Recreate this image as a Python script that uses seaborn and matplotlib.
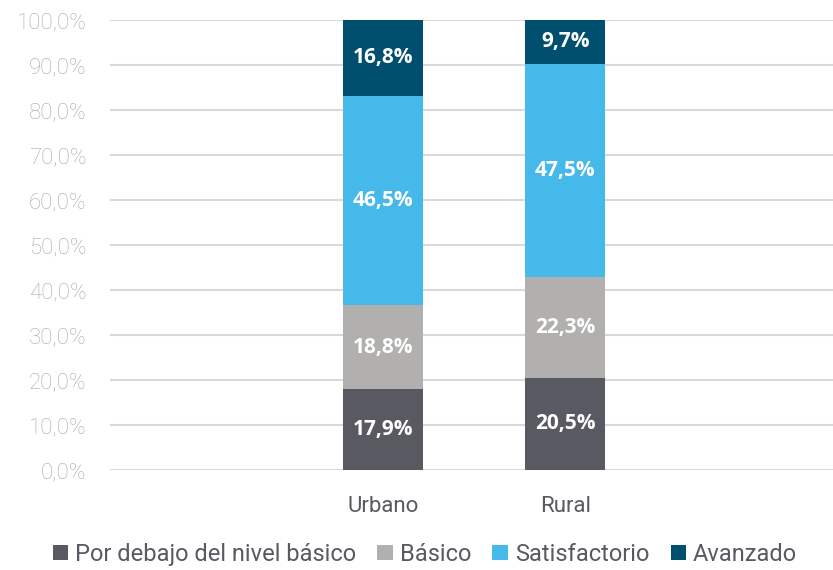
import numpy as np
import pandas as pd
import seaborn as sns
import matplotlib.pyplot as plt
from matplotlib.patches import Patch

# data
categorias = ["Urbano", "Rural"]
niveles = ["Por debajo del nivel básico", "Básico", "Satisfactorio", "Avanzado"]
por_debajo = [17.9, 20.5]
basico = [18.8, 22.3]
satisfactorio = [46.5, 47.5]
avanzado = [16.8, 9.7]
colores = ["#595961", "#b1b0ae", "#45b9e9", "#004f6e"]
yticks = [0, 10, 20, 30, 40, 50, 60, 70, 80, 90, 100]

sns.set_theme(style="white")
plt.rcParams["font.family"] = ["Roboto", "DejaVu Sans"]

series = [por_debajo, basico, satisfactorio, avanzado]
acum = np.cumsum(np.array(series), axis=0)

fig = plt.figure(figsize=(8.33, 5.7), dpi=100)
ax = fig.add_axes([0.132, 0.1754, 0.868, 0.7895])

# draw the cumulative totals from top to bottom so each layer shows
for i in reversed(range(len(niveles))):
    df = pd.DataFrame({"cat": categorias, "val": acum[i]})
    sns.barplot(data=df, x="cat", y="val", color=colores[i], saturation=1,
                width=0.44, ax=ax, zorder=3, linewidth=0)

# labels in the middle of each segment
for i, nivel in enumerate(niveles):
    for j, cat in enumerate(categorias):
        v = series[i][j]
        mid = acum[i][j] - v / 2
        ax.text(j, mid, f"{v:.1f}%".replace(".", ","), ha="center", va="center",
                color="white", fontsize=15, fontweight="bold",
                family=["Open Sans", "DejaVu Sans"], zorder=4)

ax.set_ylim(0, 100)
ax.set_xlim(-1.5, 2.47)
ax.set_yticks(yticks)
ax.set_yticklabels([f"{t:.1f}%".replace(".", ",") for t in yticks])
ax.grid(axis="y", color="#d9d9d9", linewidth=1.5, zorder=0)
ax.set_axisbelow(True)
for s in ax.spines.values():
    s.set_visible(False)
ax.tick_params(axis="y", length=0, pad=17, labelsize=16, labelcolor="#a9a9a9")
ax.tick_params(axis="x", length=0, pad=19, labelsize=16, labelcolor="#595961")
for lab in ax.get_yticklabels():
    lab.set_fontweight("light")
ax.set_xlabel("")
ax.set_ylabel("")

handles = [Patch(facecolor=c, edgecolor="none") for c in colores]
fig.legend(handles, niveles, loc="lower center", ncol=4, frameon=False,
           bbox_to_anchor=(0.51, -0.03), fontsize=17, labelcolor="#595961",
           handlelength=0.65, handleheight=0.65, handletextpad=0.3, columnspacing=0.9)

fig.savefig("out.png", dpi=100)
